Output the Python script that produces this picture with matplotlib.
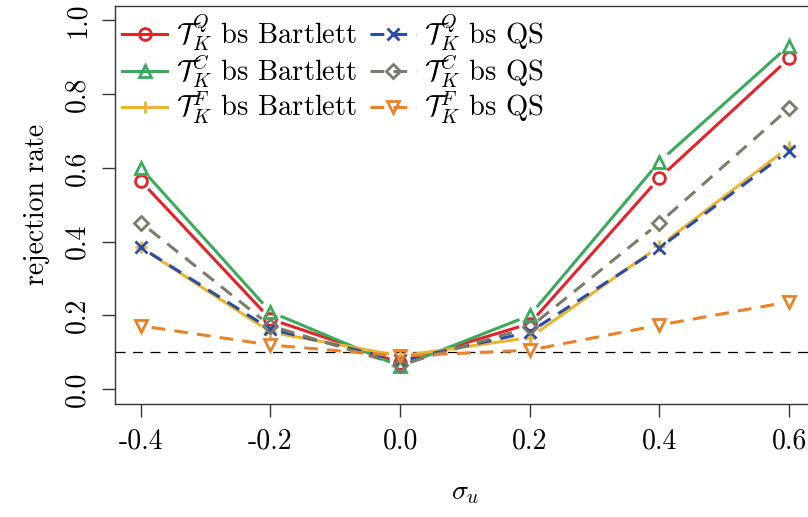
import numpy as np
import matplotlib
matplotlib.use("Agg")
import matplotlib.pyplot as plt
from matplotlib.lines import Line2D

plt.rcParams['font.family'] = 'serif'
plt.rcParams['font.serif'] = ['cmr10']
plt.rcParams['mathtext.fontset'] = 'cm'
plt.rcParams['axes.unicode_minus'] = False

sigma_u = [-0.4, -0.2, 0.0, 0.2, 0.4, 0.6]
xtick_labels = ['-0.4', '-0.2', '0.0', '0.2', '0.4', '0.6']
yticks = [0.0, 0.2, 0.4, 0.6, 0.8, 1.0]
ytick_labels = ['0.0', '0.2', '0.4', '0.6', '0.8', '1.0']

q_bartlett = [0.565, 0.190, 0.072, 0.178, 0.573, 0.897]
c_bartlett = [0.600, 0.210, 0.062, 0.200, 0.617, 0.932]
f_bartlett = [0.385, 0.155, 0.090, 0.140, 0.388, 0.657]
q_qs = [0.385, 0.163, 0.078, 0.155, 0.383, 0.647]
c_qs = [0.452, 0.172, 0.066, 0.168, 0.451, 0.762]
f_qs = [0.172, 0.120, 0.090, 0.106, 0.174, 0.237]
nominal = 0.1

series = [
    (q_bartlett, r'$\mathcal{T}_K^Q$ bs Bartlett', '#E2242A', 'o', '-'),
    (c_bartlett, r'$\mathcal{T}_K^C$ bs Bartlett', '#3BAA5C', '^', '-'),
    (f_bartlett, r'$\mathcal{T}_K^F$ bs Bartlett', '#E8B431', '+', '-'),
    (q_qs, r'$\mathcal{T}_K^Q$ bs QS', '#2B4CA3', 'x', (0, (4.5, 3))),
    (c_qs, r'$\mathcal{T}_K^C$ bs QS', '#7B7B6B', 'D', (0, (4.5, 3))),
    (f_qs, r'$\mathcal{T}_K^F$ bs QS', '#E8822A', 'v', (0, (4.5, 3))),
]

W, H = 808, 517
fig = plt.figure(figsize=(W / 100, H / 100), dpi=100)
ax = fig.add_axes([114.8 / W, (H - 404) / H, (815 - 114.8) / W, (404 - 5.7) / H])
ax.set_xlim(-0.44, 0.64)
ax.set_ylim(-0.04, 1.04)

ax.axhline(nominal, color='black', lw=0.9, ls=(0, (8, 6)), zorder=1)

GAP = 11  # pixels left free around each point, like R type="b"


def gapped_line(x, y, **kw):
    pts = ax.transData.transform(np.column_stack([x, y]))
    inv = ax.transData.inverted()
    for p0, p1 in zip(pts[:-1], pts[1:]):
        d = p1 - p0
        L = np.hypot(*d)
        if L <= 2 * GAP:
            continue
        u = d / L
        seg = inv.transform(np.array([p0 + u * GAP, p1 - u * GAP]))
        ax.plot(seg[:, 0], seg[:, 1], **kw)


handles = []
for vals, label, col, mk, ls in series:
    gapped_line(sigma_u, vals, color=col, lw=2.2, ls=ls, solid_capstyle='butt',
                dash_capstyle='butt', zorder=2)
    ms = 7 if mk == 'D' else 8.5
    ax.plot(sigma_u, vals, ls='none', marker=mk, ms=ms, mfc='none', mec=col,
            mew=2, zorder=3)
    handles.append(Line2D([], [], color=col, lw=2.2, ls=ls, marker=mk, ms=ms,
                          mfc='none', mec=col, mew=2))

ax.set_xticks(sigma_u)
ax.set_xticklabels(xtick_labels, fontsize=20)
ax.set_yticks(yticks)
ax.set_yticklabels(ytick_labels, fontsize=20, rotation=90, va='center')
ax.tick_params(length=9.4, width=1, color='#333333')
ax.tick_params(axis='x', pad=8)
ax.tick_params(axis='y', pad=8)

ax.set_xlabel(r'$\sigma_u$', fontsize=20, labelpad=18)
ax.set_ylabel('rejection rate', fontsize=20, labelpad=10)

for s in ax.spines.values():
    s.set_color('#333333')
    s.set_linewidth(1)

ax.legend(handles=handles, labels=[s[1] for s in series],
          ncol=2, loc='upper left', frameon=False, fontsize=20.5,
          handlelength=1.6, handletextpad=0.3, columnspacing=0.45,
          labelspacing=0.0, borderaxespad=0.1, borderpad=0.15)

fig.savefig('out.png', dpi=100)
